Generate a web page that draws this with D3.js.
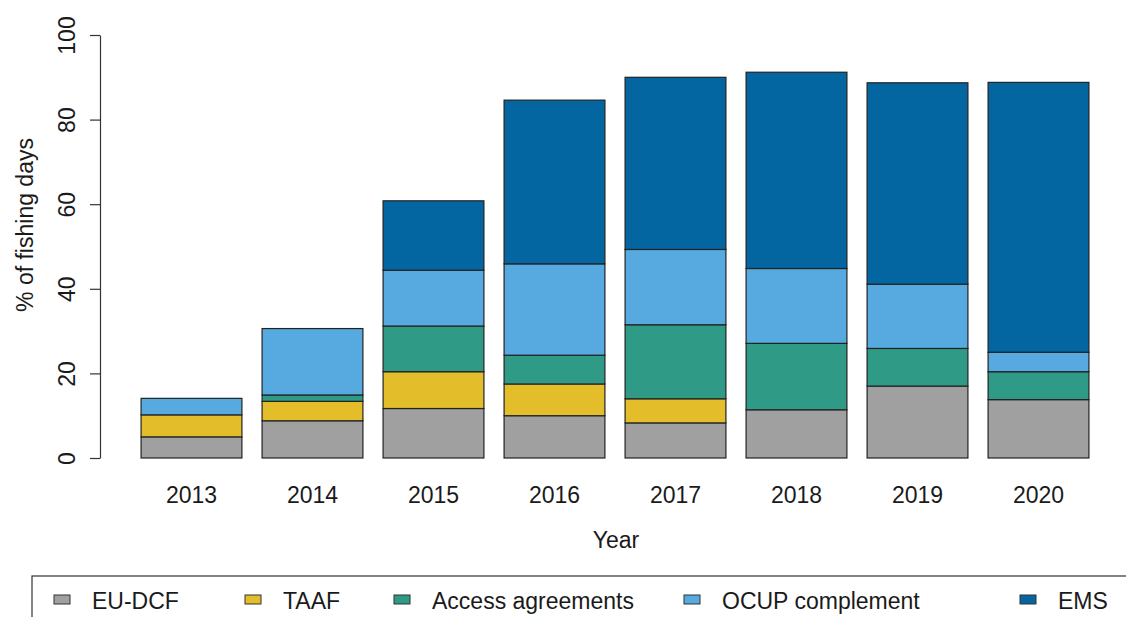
<!DOCTYPE html>
<html>
<head>
<meta charset="utf-8">
<script src="https://cdn.jsdelivr.net/npm/d3@7"></script>
<style>
  body { margin: 0; background: #fff; }
  svg text { font-family: "Liberation Sans", Arial, sans-serif; fill: #1a1a1a; }
</style>
</head>
<body>
<div id="chart"></div>
<script>
// data
let years = ['2013', '2014', '2015', '2016', '2017', '2018', '2019', '2020']
let seriesNames = ['EU-DCF', 'TAAF', 'Access agreements', 'OCUP complement', 'EMS']
let euDcf = [5.0, 8.8, 11.7, 10.0, 8.3, 11.4, 17.0, 13.8]
let taaf = [5.2, 4.6, 8.7, 7.5, 5.7, 0, 0, 0]
let access = [0, 1.5, 10.8, 6.8, 17.5, 15.7, 8.9, 6.6]
let ocup = [3.9, 15.7, 13.2, 21.6, 17.8, 17.7, 15.2, 4.6]
let ems = [0, 0, 16.4, 38.7, 40.7, 46.4, 47.6, 63.8]
let yTicks = [0, 20, 40, 60, 80, 100]

let colors = ['#a0a0a0', '#e4bd2b', '#2f9b87', '#56aadf', '#0466a0']

let width = 1126
let height = 617

let rows = years.map((y, i) => ({
	year: y,
	'EU-DCF': euDcf[i],
	'TAAF': taaf[i],
	'Access agreements': access[i],
	'OCUP complement': ocup[i],
	'EMS': ems[i]
}))

let stacked = d3.stack().keys(seriesNames)(rows)

let x = d3.scaleBand()
	.domain(years)
	.range([131, 1099])
	.paddingInner(0.1667)
	.paddingOuter(0.0833)

let y = d3.scaleLinear()
	.domain([0, 100])
	.range([458, 35])

const svg = d3.select('#chart')
	.append('svg')
	.attr('width', width)
	.attr('height', height)

// bars
svg.append('g')
	.selectAll('g')
	.data(stacked)
	.enter()
	.append('g')
	.attr('fill', (d, i) => colors[i])
	.selectAll('rect')
	.data(d => d)
	.enter()
	.append('rect')
	.attr('x', d => x(d.data.year))
	.attr('width', x.bandwidth())
	.attr('y', d => y(d[1]))
	.attr('height', d => y(d[0]) - y(d[1]))
	.attr('stroke', '#222')
	.attr('stroke-width', 1.2)

// y axis
let yAxis = svg.append('g')
	.attr('transform', 'translate(100,0)')
	.call(d3.axisLeft(y).tickValues(yTicks).tickSize(10).tickPadding(0).tickSizeOuter(0))
yAxis.select('.domain').attr('stroke', '#333').attr('stroke-width', 1.2)
yAxis.selectAll('.tick line').attr('stroke', '#333').attr('stroke-width', 1.2)
yAxis.selectAll('.tick text').remove()
yAxis.selectAll('.tick')
	.append('text')
	.attr('transform', 'translate(-25,0) rotate(-90)')
	.attr('text-anchor', 'middle')
	.attr('font-size', 23)
	.text(d => d)

// year labels
svg.append('g')
	.selectAll('text')
	.data(years)
	.enter()
	.append('text')
	.attr('x', d => x(d) + x.bandwidth() / 2)
	.attr('y', 503)
	.attr('text-anchor', 'middle')
	.attr('font-size', 23)
	.text(d => d)

svg.append('text')
	.attr('x', 616)
	.attr('y', 548)
	.attr('text-anchor', 'middle')
	.attr('font-size', 23)
	.text('Year')

svg.append('text')
	.attr('transform', 'translate(33,225) rotate(-90)')
	.attr('text-anchor', 'middle')
	.attr('font-size', 23)
	.text('% of fishing days')

// legend
let legendTextX = [92, 283, 432, 722, 1058]

svg.append('rect')
	.attr('x', 32)
	.attr('y', 576)
	.attr('width', 1120)
	.attr('height', 80)
	.attr('fill', 'none')
	.attr('stroke', '#333')
	.attr('stroke-width', 1.2)

let legendItem = svg.append('g')
	.selectAll('g')
	.data(seriesNames)
	.enter()
	.append('g')

legendItem.append('rect')
	.attr('x', (d, i) => legendTextX[i] - 38)
	.attr('y', 595)
	.attr('width', 16)
	.attr('height', 9)
	.attr('fill', (d, i) => colors[i])
	.attr('stroke', '#333')
	.attr('stroke-width', 1)

legendItem.append('text')
	.attr('x', (d, i) => legendTextX[i])
	.attr('y', 609)
	.attr('font-size', 23)
	.text(d => d)
</script>
</body>
</html>
